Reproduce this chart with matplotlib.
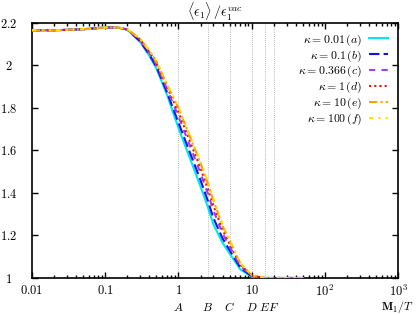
import numpy as np
import matplotlib
matplotlib.use('Agg')
import matplotlib.pyplot as plt
from matplotlib.ticker import FixedLocator, LogLocator, NullFormatter

plt.rcParams['mathtext.fontset'] = 'cm'
plt.rcParams['font.family'] = 'DejaVu Serif'

# M1/T values
x = [0.01, 0.02, 0.05, 0.1, 0.15, 0.2, 0.3, 0.4, 0.5, 0.7, 1.0, 1.5, 2.0, 2.5,
     3.0, 4.0, 5.0, 7.0, 10.0, 15.0, 20.0, 30.0, 50.0]

eps_a = [2.165, 2.165, 2.170, 2.178, 2.178, 2.168, 2.110, 2.045, 1.985, 1.860, 1.705,
         1.545, 1.430, 1.337, 1.252, 1.165, 1.115, 1.040, 1.006, 1.000, 1.000, 1.000, 1.000]
eps_b = [2.165, 2.165, 2.170, 2.178, 2.178, 2.168, 2.113, 2.051, 1.993, 1.872, 1.730,
         1.572, 1.460, 1.366, 1.282, 1.186, 1.130, 1.048, 1.008, 1.000, 1.000, 1.000, 1.000]
eps_c = [2.165, 2.165, 2.170, 2.178, 2.178, 2.169, 2.118, 2.058, 2.004, 1.888, 1.760,
         1.604, 1.494, 1.400, 1.318, 1.210, 1.148, 1.057, 1.010, 1.000, 1.000, 1.000, 1.000]
eps_d = [2.165, 2.165, 2.170, 2.178, 2.178, 2.169, 2.121, 2.063, 2.011, 1.897, 1.780,
         1.625, 1.517, 1.422, 1.341, 1.226, 1.160, 1.062, 1.011, 1.000, 1.000, 1.000, 1.000]
eps_e = [2.165, 2.165, 2.170, 2.178, 2.178, 2.170, 2.124, 2.068, 2.018, 1.907, 1.800,
         1.647, 1.540, 1.448, 1.365, 1.245, 1.175, 1.068, 1.013, 1.000, 1.000, 1.000, 1.000]
eps_f = [2.165, 2.165, 2.170, 2.178, 2.178, 2.170, 2.125, 2.070, 2.020, 1.910, 1.805,
         1.652, 1.548, 1.456, 1.372, 1.250, 1.180, 1.070, 1.014, 1.000, 1.000, 1.000, 1.000]

labels = [r'$\kappa = 0.01\,(a)$', r'$\kappa = 0.1\,(b)$', r'$\kappa = 0.366\,(c)$',
          r'$\kappa = 1\,(d)$', r'$\kappa = 10\,(e)$', r'$\kappa = 100\,(f)$']
colors = ['#00e8e8', '#1010ee', '#a040f0', '#ee1010', '#ffa000', '#ffe000']
styles = ['-', (0, (5, 2)), (0, (3, 3)), (0, (1, 1.5)), (0, (4, 1.5, 1, 1.5)),
          (0, (2, 2.5, 1, 2.5, 1, 2.5))]

# marked points A..F
marks = [1.0, 2.5, 5.0, 10.0, 15.0, 20.0]
mark_names = ['A', 'B', 'C', 'D', 'E', 'F']

fig = plt.figure(figsize=(4.16, 3.15), dpi=100)
ax = fig.add_axes([0.077, 0.1175, 0.88, 0.81])

for xm in marks:
    ax.axvline(xm, color='#a0a0a0', lw=0.6, ls=(0, (1, 1.5)), zorder=1)

for ys, lab, c, s in zip([eps_a, eps_b, eps_c, eps_d, eps_e, eps_f], labels, colors, styles):
    ax.plot(x, ys, color=c, ls=s, lw=1.5, label=lab, zorder=3)

ax.set_xscale('log')
ax.set_xlim(0.01, 1000)
ax.set_ylim(1, 2.2)

ax.xaxis.set_major_locator(FixedLocator([0.01, 0.1, 1, 10, 100, 1000]))
ax.set_xticklabels([r'$0.01$', r'$0.1$', r'$1$', r'$10$', r'$10^2$', r'$10^3$'], fontsize=9)
ax.xaxis.set_minor_locator(LogLocator(base=10, subs=np.arange(2, 10), numticks=20))
ax.xaxis.set_minor_formatter(NullFormatter())
ax.set_yticks([1, 1.2, 1.4, 1.6, 1.8, 2, 2.2])
ax.set_yticklabels([r'$1$', r'$1.2$', r'$1.4$', r'$1.6$', r'$1.8$', r'$2$', r'$2.2$'],
                   fontsize=9, ha='center')
ax.tick_params(which='both', direction='in', top=True, right=True, width=1.0)
ax.tick_params(which='major', length=4)
ax.tick_params(which='minor', length=2)
ax.tick_params(axis='x', pad=4.5)
ax.tick_params(axis='y', pad=17)
for sp in ax.spines.values():
    sp.set_linewidth(1.2)

for xm, nm in zip(marks, mark_names):
    ax.text(xm, -0.115, '$' + nm + '$', transform=ax.get_xaxis_transform(),
            ha='center', va='center', fontsize=8.5)

fig.text(0.996, 0.026, r'$\mathbf{M}_1/T$', ha='right', va='center', fontsize=8.5)
ax.set_title(r'$\langle\epsilon_1\rangle\,/\epsilon_1^{vac}$', fontsize=10, pad=3)

ax.legend(loc='upper right', frameon=False, markerfirst=False, fontsize=8.5,
          handlelength=1.6, handletextpad=0.6, labelspacing=0.05,
          borderaxespad=0.3, bbox_to_anchor=(0.995, 0.995))

fig.savefig('out.png', dpi=100)
